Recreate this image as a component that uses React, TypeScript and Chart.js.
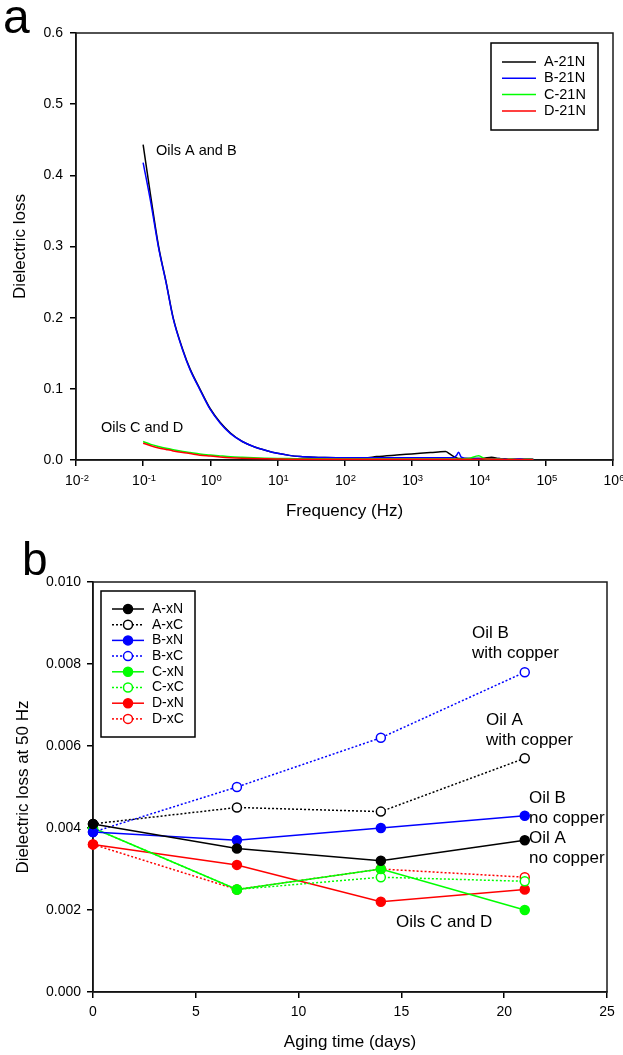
import React, { useEffect, useRef } from "react";
import { Chart, registerables } from "chart.js";

Chart.register(...registerables);

const FONT = "'Liberation Sans', Arial, Helvetica, sans-serif";
const W = 623;
const H_A = 525;
const H_B = 530;

// ---------------- Panel (a): dielectric loss vs frequency ----------------
const freqHz = [
  0.1, 0.13, 0.17, 0.22, 0.28, 0.39, 0.5, 0.7, 1, 1.4, 2, 3, 4.4, 7, 10, 15, 22, 35, 50,
  100, 200, 300, 600, 1000, 1900, 2500, 3200, 3700, 4200, 4700, 5000, 5500,
  7000, 10000, 12000, 15500, 20000, 25000, 30000, 40000, 50000, 65000,
];
const lossA21N = [
  0.443, 0.37, 0.3, 0.25, 0.2, 0.155, 0.128, 0.1, 0.072, 0.053, 0.038, 0.026, 0.019, 0.013, 0.0094, 0.0065, 0.0048, 0.0038, 0.0034,
  0.003, 0.003, 0.0048, 0.007, 0.0085, 0.0104, 0.0112, 0.0118, 0.0085, 0.005, 0.0028, 0.0022, 0.002,
  0.002, 0.002, 0.0025, 0.004, 0.002, 0.0015, 0.0012, 0.001, 0.001, 0.0008,
];
const lossB21N = [
  0.418, 0.362, 0.298, 0.249, 0.199, 0.154, 0.127, 0.099, 0.071, 0.052, 0.037, 0.026, 0.019, 0.013, 0.0094, 0.0065, 0.0048, 0.0038, 0.0034,
  0.003, 0.003, 0.003, 0.003, 0.003, 0.003, 0.003, 0.003, 0.003, 0.003, 0.007, 0.011, 0.004,
  0.002, 0.002, 0.0018, 0.0015, 0.002, 0.001, 0.0005, 0.0015, 0.001, 0.001,
];
const lossC21N = [
  0.026, 0.022, 0.019, 0.0165, 0.0145, 0.012, 0.0105, 0.0085, 0.007, 0.0058, 0.0046, 0.0037, 0.003, 0.0025, 0.0022, 0.002, 0.0018, 0.0017, 0.0016,
  0.0015, 0.0015, 0.0015, 0.0015, 0.0015, 0.0015, 0.0015, 0.0015, 0.0015, 0.0015, 0.0015, 0.0015, 0.0015,
  0.002, 0.006, 0.002, 0.001, 0.0015, 0.0005, 0.001, 0.0005, 0.001, 0.0008,
];
const lossD21N = [
  0.0236, 0.02, 0.017, 0.0148, 0.0128, 0.0105, 0.009, 0.0068, 0.0055, 0.0043, 0.0033, 0.0025, 0.002, 0.0016, 0.0014, 0.0012, 0.0012, 0.0011, 0.0011,
  0.001, 0.001, 0.001, 0.001, 0.001, 0.001, 0.001, 0.001, 0.001, 0.001, 0.001, 0.001, 0.001,
  0.001, 0.0012, 0.0015, 0.0012, 0.001, 0.0008, 0.0008, 0.0008, 0.0008, 0.0008,
];
const seriesNamesA = ["A-21N", "B-21N", "C-21N", "D-21N"];
const seriesValuesA = [lossA21N, lossB21N, lossC21N, lossD21N];
const colorsA = ["#000000", "#0000ff", "#00ff00", "#ff0000"];
const xExponentsA = [-2, -1, 0, 1, 2, 3, 4, 5, 6];

// ---------------- Panel (b): dielectric loss at 50 Hz vs aging time ----------------
const agingDays = [0, 7, 14, 21];
const lossA_xN = [0.0041, 0.0035, 0.0032, 0.0037];
const lossA_xC = [0.0041, 0.0045, 0.0044, 0.0057];
const lossB_xN = [0.0039, 0.0037, 0.004, 0.0043];
const lossB_xC = [0.0039, 0.005, 0.0062, 0.0078];
const lossC_xN = [0.004, 0.0025, 0.003, 0.002];
const lossC_xC = [0.004, 0.0025, 0.0028, 0.0027];
const lossD_xN = [0.0036, 0.0031, 0.0022, 0.0025];
const lossD_xC = [0.0036, 0.0025, 0.003, 0.0028];
const seriesNamesB = ["A-xN", "A-xC", "B-xN", "B-xC", "C-xN", "C-xC", "D-xN", "D-xC"];
const seriesValuesB = [lossA_xN, lossA_xC, lossB_xN, lossB_xC, lossC_xN, lossC_xC, lossD_xN, lossD_xC];
const colorsB = ["#000000", "#000000", "#0000ff", "#0000ff", "#00ff00", "#00ff00", "#ff0000", "#ff0000"];
const withCopperB = [false, true, false, true, false, true, false, true];

const framePlugin = {
  id: "frameBox",
  beforeDatasetsDraw(chart: any) {
    const { ctx, chartArea } = chart;
    const { left, top, right, bottom } = chartArea;
    ctx.save();
    ctx.strokeStyle = "#1a1a1a";
    ctx.lineWidth = 1.5;
    ctx.strokeRect(left, top, right - left, bottom - top);
    ctx.restore();
  },
};

const axisCommon = {
  grid: { drawOnChartArea: false, drawTicks: true, tickLength: 6, color: "#000", lineWidth: 1.5 },
  border: { display: true, color: "#000", width: 1.5 },
};

// power-of-ten tick labels with a real raised exponent
const logTickLabels = {
  id: "logTickLabels",
  afterDraw(chart: any) {
    const ctx = chart.ctx as CanvasRenderingContext2D;
    const xs = chart.scales.x;
    ctx.save();
    ctx.fillStyle = "#000";
    ctx.textBaseline = "alphabetic";
    xExponentsA.forEach((e) => {
      const px = xs.getPixelForValue(Math.pow(10, e));
      const base = "10";
      const exp = String(e);
      ctx.font = `14px ${FONT}`;
      const wb = ctx.measureText(base).width;
      ctx.font = `9.5px ${FONT}`;
      const we = ctx.measureText(exp).width;
      const x0 = px - (wb + we) / 2 + 1;
      ctx.font = `14px ${FONT}`;
      ctx.fillText(base, x0, chart.chartArea.bottom + 25);
      ctx.font = `9.5px ${FONT}`;
      ctx.fillText(exp, x0 + wb, chart.chartArea.bottom + 20.5);
    });
    ctx.restore();
  },
};

const decorA = {
  id: "decorA",
  afterDraw(chart: any) {
    const ctx = chart.ctx as CanvasRenderingContext2D;
    ctx.save();
    ctx.fillStyle = "#000";
    ctx.textBaseline = "alphabetic";
    ctx.font = `48px ${FONT}`;
    ctx.fillText("a", 3, 33);

    ctx.font = `14.5px ${FONT}`;
    ctx.textBaseline = "middle";
    ctx.fillText("Oils A and B", 156, 151);
    ctx.fillText("Oils C and D", 101, 428);

    // legend
    ctx.strokeStyle = "#000";
    ctx.lineWidth = 1.5;
    ctx.strokeRect(491, 43, 107, 87);
    seriesNamesA.forEach((name, i) => {
      const y = 62 + i * 16.3;
      ctx.strokeStyle = colorsA[i];
      ctx.lineWidth = 1.5;
      ctx.beginPath();
      ctx.moveTo(502, y);
      ctx.lineTo(536, y);
      ctx.stroke();
      ctx.fillStyle = "#000";
      ctx.fillText(name, 544, y);
    });
    ctx.restore();
  },
};

const decorB = {
  id: "decorB",
  afterDraw(chart: any) {
    const ctx = chart.ctx as CanvasRenderingContext2D;
    ctx.save();
    ctx.fillStyle = "#000";
    ctx.textBaseline = "alphabetic";
    ctx.font = `46px ${FONT}`;
    ctx.fillText("b", 22, 50);

    ctx.font = `17px ${FONT}`;
    ctx.textBaseline = "middle";
    ctx.fillText("Oil B", 472, 108);
    ctx.fillText("with copper", 472, 128);
    ctx.fillText("Oil A", 486, 195);
    ctx.fillText("with copper", 486, 215);
    ctx.fillText("Oil B", 529, 273);
    ctx.fillText("no copper", 529, 293);
    ctx.fillText("Oil A", 529, 313);
    ctx.fillText("no copper", 529, 333);
    ctx.fillText("Oils C and D", 396, 397);

    // legend
    ctx.strokeStyle = "#000";
    ctx.lineWidth = 1.5;
    ctx.strokeRect(101, 66, 94, 146);
    ctx.font = `14px ${FONT}`;
    seriesNamesB.forEach((name, i) => {
      const y = 84 + i * 15.7;
      ctx.strokeStyle = colorsB[i];
      ctx.lineWidth = 1.5;
      ctx.setLineDash(withCopperB[i] ? [2, 2] : []);
      ctx.beginPath();
      ctx.moveTo(112, y);
      ctx.lineTo(144, y);
      ctx.stroke();
      ctx.setLineDash([]);
      ctx.beginPath();
      ctx.arc(128, y, 4.5, 0, Math.PI * 2);
      ctx.fillStyle = withCopperB[i] ? "#ffffff" : colorsB[i];
      ctx.fill();
      ctx.stroke();
      ctx.fillStyle = "#000";
      ctx.fillText(name, 152, y);
    });
    ctx.restore();
  },
};

export default function App() {
  const refA = useRef<HTMLCanvasElement | null>(null);
  const refB = useRef<HTMLCanvasElement | null>(null);

  useEffect(() => {
    Chart.defaults.font.family = FONT;
    Chart.defaults.color = "#000";

    const chartA = new Chart(refA.current as HTMLCanvasElement, {
      type: "line",
      data: {
        datasets: seriesNamesA.map((name, i) => ({
          label: name,
          data: freqHz.map((f, j) => ({ x: f, y: seriesValuesA[i][j] })),
          borderColor: colorsA[i],
          backgroundColor: colorsA[i],
          borderWidth: 1.5,
          pointRadius: 0,
          cubicInterpolationMode: "monotone",
          order: 4 - i,
        })),
      },
      options: {
        responsive: false,
        animation: false,
        events: [],
        layout: { padding: { left: 0, right: 10, top: 33, bottom: 0 } },
        plugins: { legend: { display: false }, tooltip: { enabled: false } },
        scales: {
          x: {
            type: "logarithmic",
            position: "bottom",
            min: 0.01,
            max: 1e6,
            afterBuildTicks: (s: any) => {
              s.ticks = xExponentsA.map((e) => ({ value: Math.pow(10, e) }));
            },
            afterFit: (s: any) => {
              s.height = 65;
              s.paddingLeft = 0;
              s.paddingRight = 0;
            },
            ticks: {
              display: false,
              callback: (v: any) => "10^" + Math.round(Math.log10(Number(v))),
              font: { size: 14 },
              padding: 6,
              maxRotation: 0,
              autoSkip: false,
              color: "#000",
            },
            ...axisCommon,
            title: { display: true, text: "Frequency (Hz)", font: { size: 17 }, color: "#000", padding: { top: 0, bottom: 3 } },
          },
          y: {
            type: "linear",
            min: 0,
            max: 0.6,
            afterFit: (s: any) => {
              s.width = 76;
              s.paddingTop = 0;
              s.paddingBottom = 0;
            },
            ticks: { stepSize: 0.1, callback: (v: any) => Number(v).toFixed(1), font: { size: 14 }, padding: 7, color: "#000" },
            ...axisCommon,
            title: { display: true, text: "Dielectric loss", font: { size: 17 }, color: "#000", padding: { top: 10, bottom: 0 } },
          },
        },
      },
      plugins: [framePlugin, logTickLabels, decorA],
    } as any);

    const chartB = new Chart(refB.current as HTMLCanvasElement, {
      type: "line",
      data: {
        datasets: seriesNamesB.map((name, i) => ({
          label: name,
          data: agingDays.map((d, j) => ({ x: d, y: seriesValuesB[i][j] })),
          borderColor: colorsB[i],
          backgroundColor: withCopperB[i] ? "#ffffff" : colorsB[i],
          pointBackgroundColor: withCopperB[i] ? "#ffffff" : colorsB[i],
          pointBorderColor: colorsB[i],
          borderWidth: 1.5,
          borderDash: withCopperB[i] ? [2, 2] : [],
          pointRadius: 4.5,
          pointBorderWidth: 1.5,
          pointStyle: "circle",
          tension: 0,
          clip: false,
        })),
      },
      options: {
        responsive: false,
        animation: false,
        events: [],
        layout: { padding: { left: 0, right: 16, top: 57, bottom: 0 } },
        plugins: { legend: { display: false }, tooltip: { enabled: false } },
        scales: {
          x: {
            type: "linear",
            position: "bottom",
            min: 0,
            max: 25,
            afterFit: (s: any) => {
              s.height = 63;
              s.paddingLeft = 0;
              s.paddingRight = 0;
            },
            ticks: { stepSize: 5, font: { size: 14 }, padding: 6, maxRotation: 0, color: "#000" },
            ...axisCommon,
            title: { display: true, text: "Aging time (days)", font: { size: 17 }, color: "#000", padding: { top: 0, bottom: 2 } },
          },
          y: {
            type: "linear",
            min: 0,
            max: 0.01,
            afterFit: (s: any) => {
              s.width = 93;
              s.paddingTop = 0;
              s.paddingBottom = 0;
            },
            ticks: { stepSize: 0.002, callback: (v: any) => Number(v).toFixed(3), font: { size: 14 }, padding: 6, color: "#000" },
            ...axisCommon,
            title: { display: true, text: "Dielectric loss at 50 Hz", font: { size: 17 }, color: "#000", padding: { top: 13, bottom: 0 } },
          },
        },
      },
      plugins: [framePlugin, decorB],
    } as any);

    return () => {
      chartA.destroy();
      chartB.destroy();
    };
  }, []);

  return (
    <div style={{ position: "absolute", left: 0, top: 0, width: W, height: H_A + H_B, background: "#fff" }}>
      <canvas ref={refA} width={W} height={H_A} style={{ display: "block", width: W, height: H_A }} />
      <canvas ref={refB} width={W} height={H_B} style={{ display: "block", width: W, height: H_B }} />
    </div>
  );
}
